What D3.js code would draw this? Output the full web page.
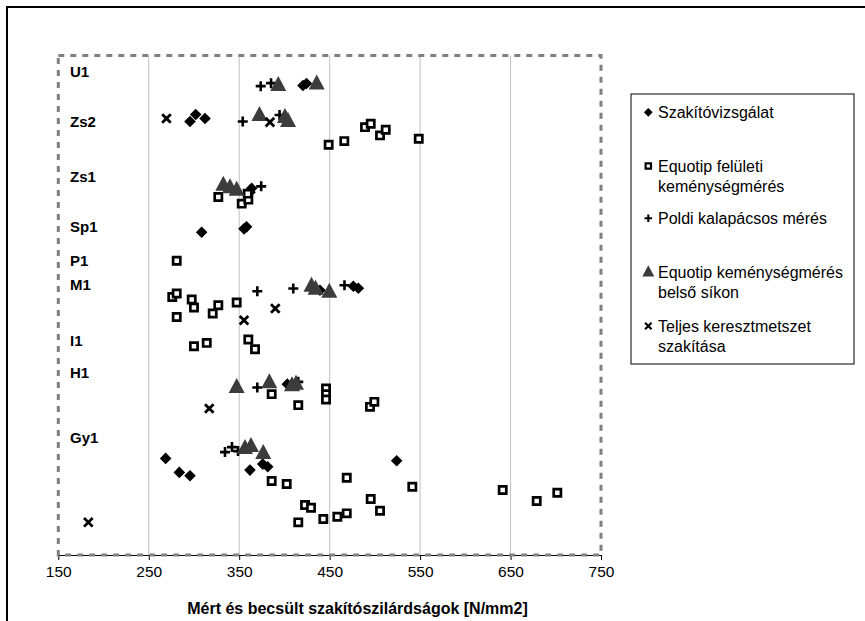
<!DOCTYPE html>
<html><head>
<meta charset="utf-8">
<script src="https://d3js.org/d3.v7.min.js"></script>
<style>
  body { margin: 0; background: #fff; }
  text { font-family: "Liberation Sans", Arial, sans-serif; fill: #000; }
  .grid { stroke: #c0c0c0; stroke-width: 1px; }
  .border { stroke: #808080; stroke-width: 3px; stroke-dasharray: 6,6; fill: none; }
</style>
</head>
<body>
<svg id="chart" width="865" height="621"></svg>
<script>
// specimen labels (placed on the hidden y scale)
const groups = ["U1", "Zs2", "Zs1", "Sp1", "P1", "M1", "I1", "H1", "Gy1"];
const groupY = [48.4, 43.4, 37.9, 32.9, 29.5, 27.05, 21.5, 18.3, 11.8];

const xTicks = [150, 250, 350, 450, 550, 650, 750];

// Szakítóvizsgálat
const tensile = [[420.5,47.0],[424.4,47.2],[295.6,43.4],[301.9,44.1],[312.2,43.7],[363.8,36.7],[361.9,36.3],
  [308.5,32.3],[355.3,32.65],[358.1,32.85],[439.3,26.5],[476.2,26.9],[481.7,26.7],[403.2,17.1],
  [268.7,9.67],[283.8,8.27],[295.6,7.93],[361.9,8.5],[376,9.1],[381.5,8.83],[524.1,9.43]];
// Equotip felületi keménységmérés
const equotipSurface = [[448.9,41.07],[466.2,41.43],[489.1,42.83],[495.4,43.17],[505.7,42.0],[512,42.57],[548.5,41.67],
  [326.9,35.83],[352.8,35.17],[360.1,35.57],[359.4,36.17],[280.9,29.45],
  [276,25.83],[280.9,26.17],[297.5,25.57],[300,24.77],[280.9,23.83],[320.7,24.17],[326.9,25.0],[347.2,25.27],
  [300,20.9],[314.1,21.23],[360.1,21.57],[367.5,20.6],
  [385.9,16.1],[415.3,15.0],[446,16.67],[446,16.1],[446,15.57],[494.6,14.83],[499.4,15.33],
  [385.9,7.4],[402.5,7.1],[422.8,5.0],[429.4,4.73],[415.3,3.27],[443,3.6],[458.5,3.83],[468.9,4.17],
  [468.9,7.73],[495.4,5.6],[505.7,4.43],[541.4,6.83],[641.3,6.5],[678.9,5.4],[701.7,6.23]];
// Poldi kalapácsos mérés
const poldi = [[373.8,46.93],[385.2,47.23],[353.9,43.4],[394.6,44.05],[374.3,36.9],
  [370,26.4],[409.8,26.67],[466.4,27.0],[370,16.77],[415.3,17.33],
  [334.3,10.3],[342,10.8],[348.7,10.4]];
// Equotip keménységmérés belső síkon
const equotipInner = [[393.2,47.0],[435.7,47.15],[372.4,44.0],[400.6,43.8],[404,43.4],
  [332.4,37.0],[339.8,36.75],[347.2,36.5],[429.9,26.9],[434.4,26.6],[449.6,26.3],
  [347.2,16.77],[383.3,17.23],[408.4,16.95],[412.8,17.1],[356.4,10.67],[363,10.85],[376.6,10.17]];
// Teljes keresztmetszet szakítása
const fullSection = [[269.6,43.7],[384,43.33],[389.9,24.67],[355.3,23.5],[316.9,14.67],[183.2,3.27]];

const svg = d3.select("#chart");
const plotL = 58.3, plotR = 601, plotT = 55.5, plotB = 555;

// outer chart frame runs past the window
svg.append("rect").attr("x", 7).attr("y", 7).attr("width", 950).attr("height", 700)
  .attr("fill", "none").attr("stroke", "#000").attr("stroke-width", 2);

const x = d3.scaleLinear().domain([150, 750]).range([plotL, plotR]);
const y = d3.scaleLinear().domain([0, 50]).range([plotB, plotT]);

svg.append("g").selectAll("line").data(xTicks.slice(1, -1)).join("line")
  .attr("class", "grid")
  .attr("x1", d => x(d)).attr("x2", d => x(d))
  .attr("y1", plotT).attr("y2", plotB);

// x axis
const xAxis = svg.append("g").attr("transform", `translate(0,${plotB})`)
  .call(d3.axisBottom(x).tickValues(xTicks).tickSize(5).tickSizeOuter(0).tickPadding(6));
xAxis.select(".domain").attr("stroke", "#000");
xAxis.selectAll("text").attr("font-size", "15.5px").attr("font-family", "Liberation Sans, Arial");

// dashed plot border
svg.append("rect").attr("class", "border")
  .attr("x", plotL).attr("y", plotT).attr("width", plotR - plotL).attr("height", plotB - plotT);

svg.append("text").attr("x", 357.5).attr("y", 613.5).attr("text-anchor", "middle")
  .attr("font-size", "16px").attr("font-weight", "bold")
  .text("Mért és becsült szakítószilárdságok [N/mm2]");

svg.append("g").selectAll("text").data(groups).join("text")
  .attr("x", 70).attr("y", (d, i) => y(groupY[i]) + 5.5)
  .attr("font-size", "15px").attr("font-weight", "bold")
  .text(d => d);

// marker shapes
const shapes = {
  diamond: s => `M0,${-5.8*s}L${5.8*s},0L0,${5.8*s}L${-5.8*s},0Z`,
  square: s => `M${-3.6*s},${-3.6*s}h${7.2*s}v${7.2*s}h${-7.2*s}Z`,
  plus: s => `M${-5*s},0H${5*s}M0,${-5*s}V${5*s}`,
  triangle: s => `M0,${-9.5*s}L${8*s},${5.5*s}L${-8*s},${5.5*s}Z`,
  cross: s => `M${-4.3*s},${-4.3*s}L${4.3*s},${4.3*s}M${4.3*s},${-4.3*s}L${-4.3*s},${4.3*s}`
};
const styles = {
  diamond: {fill: "#000", stroke: "none", sw: 0},
  square: {fill: "#fff", stroke: "#000", sw: 2.7},
  plus: {fill: "none", stroke: "#000", sw: 2.6},
  triangle: {fill: "#3c3c3c", stroke: "none", sw: 0},
  cross: {fill: "none", stroke: "#000", sw: 2.8}
};

const series = [
  {name: "Szakítóvizsgálat", data: tensile, shape: "diamond"},
  {name: "Equotip felületi\nkeménységmérés", data: equotipSurface, shape: "square"},
  {name: "Poldi kalapácsos mérés", data: poldi, shape: "plus"},
  {name: "Equotip keménységmérés\nbelső síkon", data: equotipInner, shape: "triangle"},
  {name: "Teljes keresztmetszet\nszakítása", data: fullSection, shape: "cross"}
];

series.forEach(s => {
  const st = styles[s.shape];
  svg.append("g").selectAll("path").data(s.data).join("path")
    .attr("transform", d => `translate(${x(d[0])},${y(d[1])})`)
    .attr("d", shapes[s.shape](1))
    .attr("fill", st.fill).attr("stroke", st.stroke).attr("stroke-width", st.sw);
});

// legend
const legend = svg.append("g");
legend.append("rect").attr("x", 631).attr("y", 94).attr("width", 223).attr("height", 270)
  .attr("fill", "#fff").attr("stroke", "#000").attr("stroke-width", 1);
const legendY = [112.3, 166, 218.3, 272.3, 326];
series.forEach((s, i) => {
  const st = styles[s.shape];
  legend.append("path")
    .attr("transform", `translate(648.3,${legendY[i]})`)
    .attr("d", shapes[s.shape](0.75))
    .attr("fill", st.fill).attr("stroke", st.stroke).attr("stroke-width", st.sw * 0.8);
  s.name.split("\n").forEach((line, j) => {
    legend.append("text").attr("x", 658).attr("y", legendY[i] + 5.5 + j * 20.5)
      .attr("font-size", "16px").text(line);
  });
});
</script>
</body>
</html>
